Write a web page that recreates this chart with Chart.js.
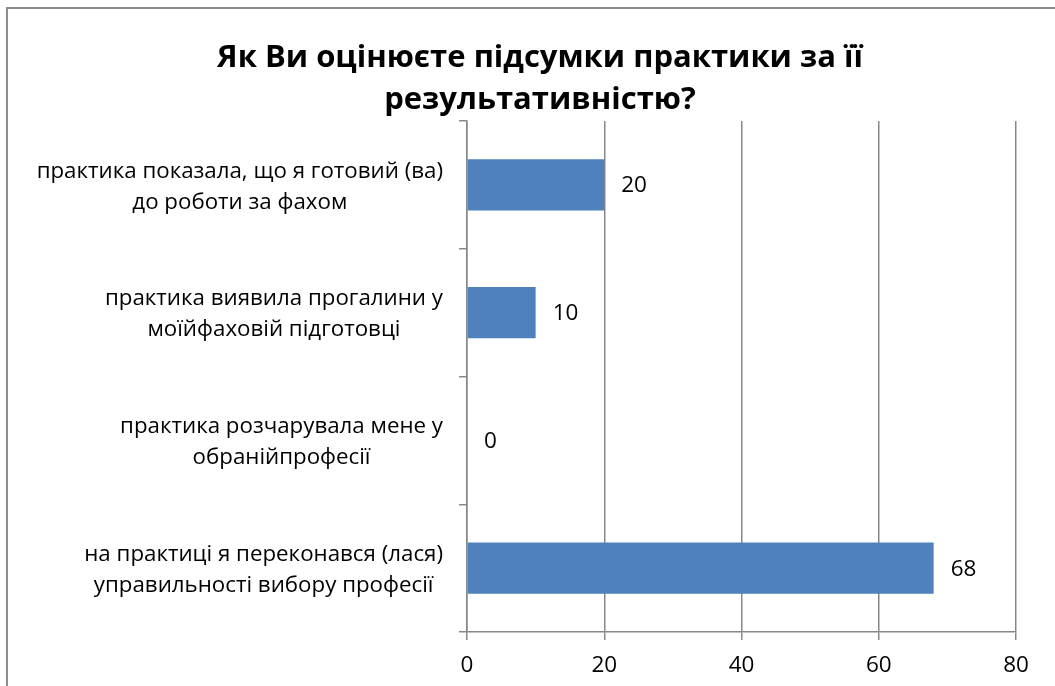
<!DOCTYPE html>
<html>
<head>
<meta charset="utf-8">
<script src="https://cdn.jsdelivr.net/npm/chart.js@4.4.0/dist/chart.umd.min.js"></script>
<style>
  html, body { margin: 0; padding: 0; background: #fff; overflow: hidden; }
  #frame { position: absolute; left: 6px; top: 7px; width: 1200px; height: 800px; border: 2px solid #8c8c8c; box-sizing: border-box; }
  #wrap { position: absolute; left: 0; top: 0; width: 1055px; height: 686px; }
</style>
</head>
<body>
<div id="frame"></div>
<div id="wrap"><canvas id="c" width="1055" height="686"></canvas></div>
<script>
const titleLines = ['Як Ви оцінюєте підсумки практики за її', 'результативністю?'];
const categories = [
  ['практика показала, що я готовий (ва)', 'до роботи за фахом'],
  ['практика виявила прогалини у', 'моїйфаховій підготовці'],
  ['практика розчарувала мене у', 'обранійпрофесії'],
  ['на практиці я переконався (лася)', 'управильності вибору професії']
];
const values = [20, 10, 0, 68];
const xTicks = [0, 20, 40, 60, 80];

const FONT = "'Open Sans', 'Noto Sans', sans-serif";
const GRID = '#888888';

// value labels at the end of each bar
const valueLabels = {
  id: 'valueLabels',
  afterDatasetsDraw(chart) {
    const ctx = chart.ctx;
    const meta = chart.getDatasetMeta(0);
    ctx.save();
    ctx.font = '22.5px ' + FONT;
    ctx.fillStyle = '#000';
    ctx.textAlign = 'left';
    ctx.textBaseline = 'middle';
    meta.data.forEach((bar, i) => {
      ctx.fillText(String(values[i]), bar.x + 17, bar.y + 1);
    });
    ctx.restore();
  }
};

// category labels: block right-aligned to the axis, lines centered inside the block
const categoryLabels = {
  id: 'categoryLabels',
  afterDraw(chart) {
    const ctx = chart.ctx;
    const y = chart.scales.y;
    const right = chart.chartArea.left - 24;
    const lh = 31;
    ctx.save();
    ctx.font = '22.3px ' + FONT;
    ctx.fillStyle = '#000';
    ctx.textAlign = 'center';
    ctx.textBaseline = 'middle';
    categories.forEach((lines, i) => {
      const cy = y.getPixelForTick(i) + 2;
      const w = Math.max(...lines.map(l => ctx.measureText(l).width));
      const cx = right - w / 2;
      const top = cy - (lines.length - 1) * lh / 2;
      lines.forEach((l, j) => ctx.fillText(l, cx, top + j * lh));
    });
    ctx.restore();
  }
};

new Chart(document.getElementById('c'), {
  type: 'bar',
  data: {
    labels: categories,
    datasets: [{
      data: values,
      backgroundColor: '#4F81BD',
      borderWidth: 0,
      categoryPercentage: 1,
      barPercentage: 0.4
    }]
  },
  options: {
    indexAxis: 'y',
    responsive: false,
    animation: false,
    layout: { padding: { left: 25, right: 0, top: 0, bottom: 0 } },
    plugins: {
      legend: { display: false },
      tooltip: { enabled: false },
      title: {
        display: true,
        text: titleLines,
        color: '#000',
        font: { family: FONT, size: 31, weight: 'bold', lineHeight: 1.355 },
        padding: { top: 37, bottom: 0 }
      }
    },
    scales: {
      x: {
        min: 0, max: 80,
        afterBuildTicks(s) { s.ticks = xTicks.map(v => ({ value: v })); },
        afterFit(s) { s.height = 54; s.paddingRight = 39; s.paddingLeft = 0; },
        grid: { color: GRID, lineWidth: 1.5, tickLength: 8, drawTicks: true },
        border: { display: true, color: GRID, width: 1.5 },
        ticks: { color: '#000', font: { family: FONT, size: 22.5 }, padding: 12 }
      },
      y: {
        afterFit(s) { s.width = 442; },
        grid: { color: GRID, lineWidth: 1.5, drawOnChartArea: false, drawTicks: true, tickLength: 8, offset: true },
        border: { display: true, color: GRID, width: 1.5 },
        ticks: { display: false }
      }
    }
  },
  plugins: [valueLabels, categoryLabels]
});
</script>
</body>
</html>
